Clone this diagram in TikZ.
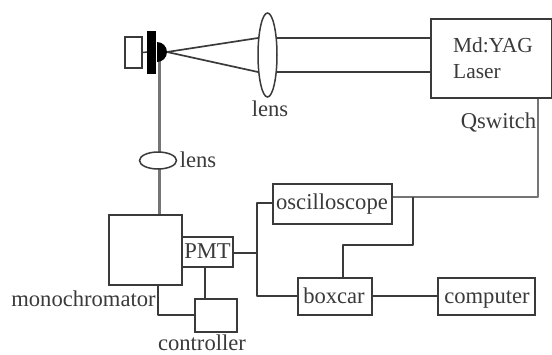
\documentclass[tikz,border=0pt]{standalone}
\usepackage{fontspec}
\setmainfont{Liberation Serif}
\usetikzlibrary{shapes.geometric}
\definecolor{ink}{HTML}{3A3A3A}
\definecolor{txt}{HTML}{3A3A3A}
\tikzset{
  px/.style={x=1pt,y=-1pt},
  boxn/.style={draw=ink,line width=2pt,fill=white,inner sep=0pt,anchor=north west},
  lbl/.style={text=txt,inner sep=0pt,font=\fontsize{22.6}{24}\selectfont},
  wire/.style={draw=ink,line width=2.1pt,line join=round},
  gwire/.style={draw=ink!70,line width=2.3pt,line join=round},
  beam/.style={draw=ink,line width=1.7pt},
  lensn/.style={ellipse,draw=ink,line width=1.5pt,fill=white,inner sep=0pt}
}
\begin{document}
\begin{tikzpicture}[px]
\useasboundingbox (0,0) rectangle (552,354);
% laser
\node[boxn,minimum width=121pt,minimum height=79pt] (laser) at (430,18) {};
\node[lbl,anchor=base west,font=\fontsize{21.4}{24}\selectfont] (md) at (453,52) {Md:YAG};
\node[lbl,anchor=base west,font=\fontsize{21.4}{24}\selectfont] (las) at (453,78) {Laser};
% sample assembly
\node[draw=ink,line width=1.5pt,fill=white,minimum width=17pt,minimum height=31pt,inner sep=0pt] (cell) at (133.5,52.5) {};
\coordinate (focus) at (167,52);
\coordinate (laserTop) at (430,38);
\coordinate (laserBot) at (430,72);
\coordinate (lensTop) at (258,38);
\coordinate (lensBot) at (258,72);
\draw[wire] (lensTop) -- (laserTop);
\draw[wire] (lensBot) -- (laserBot);
\draw[beam] (focus) -- (lensTop);
\draw[beam] (focus) -- (lensBot);
\node[lensn,minimum width=19pt,minimum height=84pt] (biglens) at (267.5,55) {};
\coordinate (targetL) at (147,52);
\draw[draw=ink,line width=1.5pt] (cell.east) -- (targetL);
\node[lbl,anchor=base] (lens1) at (270,116) {lens};
% boxes
\node[boxn,minimum width=73pt,minimum height=70pt] (mono) at (108,214) {};
\node[boxn,minimum width=51pt,minimum height=30pt] (pmt) at (181,236) {};
\node[lbl,anchor=base] (pmtt) at (207.5,258.5) {PMT};
\node[boxn,minimum width=42pt,minimum height=33pt] (ctrl) at (194,298) {};
\node[boxn,minimum width=119pt,minimum height=40pt] (osc) at (272,183) {};
\node[lbl,anchor=base] (osct) at (332,209) {oscilloscope};
\node[boxn,minimum width=74pt,minimum height=37pt] (boxcar) at (297,277) {};
\node[lbl,anchor=base] (boxt) at (334,303) {boxcar};
\node[boxn,minimum width=97pt,minimum height=37pt] (comp) at (437,277) {};
\node[lbl,anchor=base] (compt) at (487,303) {computer};
\node[lbl,anchor=base] (monol) at (83.5,306) {monochromator};
\node[lbl,anchor=base] (ctrll) at (202,350) {controller};
\node[lbl,anchor=base] (qs) at (498.5,128) {Qswitch};
\node[lbl,anchor=base] (lens2) at (198,167) {lens};
% collection
\coordinate (fib) at (159.5,60);
\draw[gwire] (fib) -- (fib |- mono.north);
\node[lensn,minimum width=37pt,minimum height=17pt] (smalllens) at (158,160.5) {};
% target (black)
\fill[black] (157,42) arc[start angle=90,end angle=-90,radius=10pt] -- cycle;
\fill[black] (147,31) rectangle (156,74);
% wires
\coordinate (j1) at (257,253);
\draw[wire] (pmt.east |- j1) -- (j1);
\draw[wire] (osc.west |- 0,203) -- (257,203) -- (257,296) -- (boxcar.west |- 0,296);
\draw[wire] (boxcar.east |- 0,296) -- (comp.west |- 0,296);
\coordinate (q) at (538,197);
\draw[gwire] (osc.east |- q) -- (q) -- (q |- laser.south);
\coordinate (k) at (413,197);
\draw[wire] (k) -- (413,245) -- (343,245) -- (343,277);
\draw[wire] (205,266) -- (205,298);
\draw[wire] (158,284) -- (158,315) -- (ctrl.west |- 0,315);
\end{tikzpicture}
\end{document}
